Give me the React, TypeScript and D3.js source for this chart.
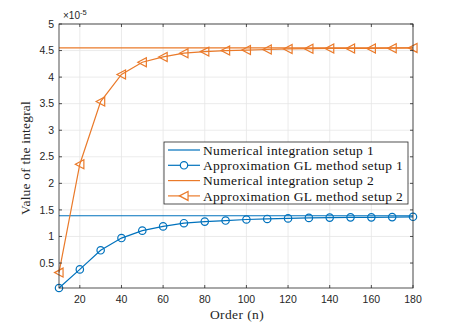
import React, { useEffect, useRef } from 'react';
import * as d3 from 'd3';

const orders = [10, 20, 30, 40, 50, 60, 70, 80, 90, 100, 110, 120, 130, 140, 150, 160, 170, 180];
const glSetup1 = [0.03, 0.38, 0.74, 0.97, 1.11, 1.19, 1.25, 1.28, 1.30, 1.32, 1.33, 1.34, 1.35, 1.355, 1.36, 1.36, 1.365, 1.37];
const glSetup2 = [0.32, 2.36, 3.54, 4.05, 4.28, 4.38, 4.45, 4.48, 4.50, 4.51, 4.52, 4.53, 4.535, 4.54, 4.54, 4.54, 4.545, 4.55];
const numSetup1 = 1.39;
const numSetup2 = 4.55;
const xTicks = [20, 40, 60, 80, 100, 120, 140, 160, 180];
const yTicks = [0.5, 1, 1.5, 2, 2.5, 3, 3.5, 4, 4.5, 5];
const legendLabels = [
  'Numerical integration setup 1',
  'Approximation GL method setup 1',
  'Numerical integration setup 2',
  'Approximation GL method setup 2',
];

const BLUE = '#0072BD';
const ORANGE = '#EA7A2A';

const App = () => {
  const svgRef = useRef<SVGSVGElement>(null);

  useEffect(() => {
    const margin = { top: 24, right: 44, bottom: 37, left: 59 };
    const W = 457, H = 325;
    const width = W - margin.left - margin.right;
    const height = H - margin.top - margin.bottom;

    const root = d3.select(svgRef.current);
    root.selectAll('*').remove();
    root.attr('width', W).attr('height', H);
    root.append('rect').attr('width', W).attr('height', H).attr('fill', '#fff');

    const svg = root.append('g').attr('transform', `translate(${margin.left},${margin.top})`);

    const x = d3.scaleLinear().domain([10, 180]).range([0, width]);
    const y = d3.scaleLinear().domain([0.03, 5]).range([height, 0]);

    // grid
    svg.selectAll('.gx').data(xTicks).enter().append('line')
      .attr('x1', d => x(d)).attr('x2', d => x(d)).attr('y1', 0).attr('y2', height)
      .attr('stroke', '#e6e6e6').attr('stroke-width', 0.8);
    svg.selectAll('.gy').data(yTicks).enter().append('line')
      .attr('y1', d => y(d)).attr('y2', d => y(d)).attr('x1', 0).attr('x2', width)
      .attr('stroke', '#e6e6e6').attr('stroke-width', 0.8);

    const plot = svg.append('g');

    // horizontal reference lines
    plot.append('line').attr('x1', 0).attr('x2', width)
      .attr('y1', y(numSetup1)).attr('y2', y(numSetup1))
      .attr('stroke', BLUE).attr('stroke-width', 1.2);
    plot.append('line').attr('x1', 0).attr('x2', width)
      .attr('y1', y(numSetup2)).attr('y2', y(numSetup2))
      .attr('stroke', ORANGE).attr('stroke-width', 1.2);

    const line = d3.line<number>().x((d, i) => x(orders[i])).y(d => y(d));

    plot.append('path').datum(glSetup1).attr('d', line)
      .attr('fill', 'none').attr('stroke', BLUE).attr('stroke-width', 1.2);
    plot.selectAll('.c1').data(glSetup1).enter().append('circle')
      .attr('cx', (d, i) => x(orders[i])).attr('cy', d => y(d)).attr('r', 3.7)
      .attr('fill', 'none').attr('stroke', BLUE).attr('stroke-width', 1.2);

    const tri = (cx: number, cy: number, s = 4.5) =>
      `M${cx - s},${cy}L${cx + s * 0.9},${cy - s}L${cx + s * 0.9},${cy + s}Z`;

    plot.append('path').datum(glSetup2).attr('d', line)
      .attr('fill', 'none').attr('stroke', ORANGE).attr('stroke-width', 1.2);
    plot.selectAll('.t2').data(glSetup2).enter().append('path')
      .attr('d', (d, i) => tri(x(orders[i]), y(d)))
      .attr('fill', 'none').attr('stroke', ORANGE).attr('stroke-width', 1.2);

    // axes box + ticks
    const axisColor = '#262626';
    svg.append('rect').attr('width', width).attr('height', height)
      .attr('fill', 'none').attr('stroke', axisColor).attr('stroke-width', 0.8);
    xTicks.forEach(t => {
      svg.append('line').attr('x1', x(t)).attr('x2', x(t)).attr('y1', height).attr('y2', height - 3)
        .attr('stroke', axisColor).attr('stroke-width', 0.8);
      svg.append('line').attr('x1', x(t)).attr('x2', x(t)).attr('y1', 0).attr('y2', 3)
        .attr('stroke', axisColor).attr('stroke-width', 0.8);
    });
    yTicks.forEach(t => {
      svg.append('line').attr('y1', y(t)).attr('y2', y(t)).attr('x1', 0).attr('x2', 3)
        .attr('stroke', axisColor).attr('stroke-width', 0.8);
      svg.append('line').attr('y1', y(t)).attr('y2', y(t)).attr('x1', width).attr('x2', width - 3)
        .attr('stroke', axisColor).attr('stroke-width', 0.8);
    });

    const sans = "'Liberation Sans', Arial, sans-serif";
    const serif = "'Liberation Serif', 'Times New Roman', serif";

    svg.selectAll('.xl').data(xTicks).enter().append('text')
      .attr('x', d => x(d)).attr('y', height + 15)
      .attr('text-anchor', 'middle').attr('font-family', sans).attr('font-size', 10.5)
      .attr('fill', axisColor).text(d => d);
    svg.selectAll('.yl').data(yTicks).enter().append('text')
      .attr('x', -5).attr('y', d => y(d)).attr('dy', '0.35em')
      .attr('text-anchor', 'end').attr('font-family', sans).attr('font-size', 10.5)
      .attr('fill', axisColor).text(d => d);

    const mult = svg.append('text').attr('x', 4).attr('y', -5)
      .attr('font-family', sans).attr('font-size', 10).attr('fill', axisColor);
    mult.append('tspan').text('×10');
    mult.append('tspan').attr('dy', -4).attr('font-size', 7.5).text('-5');

    svg.append('text').attr('x', width / 2 + 1).attr('y', height + 31)
      .attr('text-anchor', 'middle').attr('font-family', serif).attr('font-size', 13.5)
      .attr('letter-spacing', 0.4)
      .attr('fill', axisColor).text('Order (n)');
    svg.append('text')
      .attr('transform', `translate(-29,${height / 2 + 2}) rotate(-90)`)
      .attr('text-anchor', 'middle').attr('font-family', serif).attr('font-size', 13.5)
      .attr('letter-spacing', 0.2)
      .attr('fill', axisColor).text('Value of the integral');

    // legend
    const lg = root.append('g').attr('transform', 'translate(164,142)');
    lg.append('rect').attr('width', 244).attr('height', 62)
      .attr('fill', '#fff').attr('stroke', axisColor).attr('stroke-width', 0.8);
    const colors = [BLUE, BLUE, ORANGE, ORANGE];
    legendLabels.forEach((lab, i) => {
      const cy = 8 + i * 15.3;
      lg.append('line').attr('x1', 4).attr('x2', 36).attr('y1', cy).attr('y2', cy)
        .attr('stroke', colors[i]).attr('stroke-width', 1.2);
      if (i === 1) {
        lg.append('circle').attr('cx', 20).attr('cy', cy).attr('r', 3.7)
          .attr('fill', '#fff').attr('stroke', BLUE).attr('stroke-width', 1.2);
      }
      if (i === 3) {
        lg.append('path').attr('d', tri(20, cy))
          .attr('fill', '#fff').attr('stroke', ORANGE).attr('stroke-width', 1.2);
      }
      lg.append('text').attr('x', 39).attr('y', cy).attr('dy', '0.35em')
        .attr('font-family', serif).attr('font-size', 13.5).attr('letter-spacing', 0.35)
        .attr('fill', '#111').text(lab);
    });
  }, []);

  return <svg ref={svgRef} style={{ position: 'absolute', left: 0, top: 0 }}></svg>;
};

export default App;
